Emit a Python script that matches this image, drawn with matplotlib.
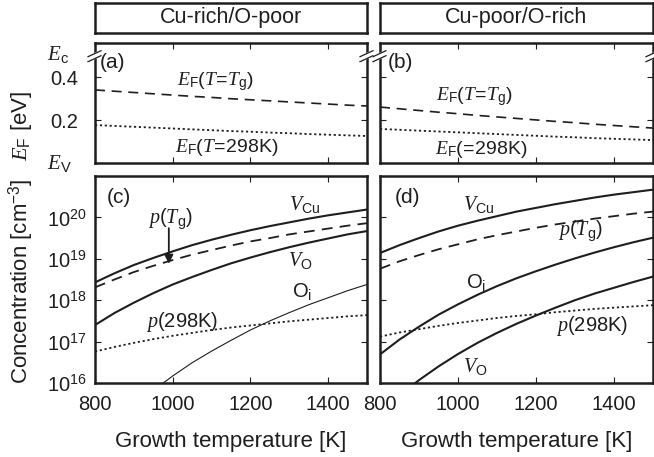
import matplotlib
matplotlib.use("Agg")
import matplotlib.pyplot as plt
import numpy as np

plt.rcParams['font.family'] = ['Liberation Sans', 'DejaVu Sans']
plt.rcParams['mathtext.fontset'] = 'custom'
plt.rcParams['mathtext.rm'] = 'Liberation Sans'
plt.rcParams['mathtext.sf'] = 'Liberation Sans'
plt.rcParams['mathtext.it'] = 'Liberation Serif:italic'

INK = '#1e1e1e'

# growth temperature [K]
temps = [800, 850, 900, 950, 1000, 1050, 1100, 1150, 1200, 1250, 1300, 1350, 1400, 1450, 1500]

# Fermi level above E_V [eV]
ef_tg_rich = [0.341, 0.335, 0.329, 0.323, 0.317, 0.311, 0.306, 0.300, 0.295, 0.290, 0.285, 0.280, 0.275, 0.270, 0.266]
ef_rt_rich = [0.177, 0.173, 0.169, 0.165, 0.161, 0.157, 0.153, 0.149, 0.146, 0.142, 0.139, 0.135, 0.132, 0.129, 0.126]
ef_tg_poor = [0.261, 0.253, 0.245, 0.237, 0.230, 0.222, 0.215, 0.208, 0.201, 0.194, 0.188, 0.181, 0.175, 0.169, 0.163]
ef_rt_poor = [0.159, 0.155, 0.151, 0.147, 0.143, 0.139, 0.135, 0.131, 0.127, 0.123, 0.120, 0.116, 0.113, 0.110, 0.107]

# log10 concentration [cm^-3], Cu-rich/O-poor
vcu_rich = [18.43, 18.65, 18.85, 19.02, 19.18, 19.33, 19.46, 19.58, 19.69, 19.79, 19.88, 19.97, 20.05, 20.12, 20.19]
ptg_rich = [18.31, 18.50, 18.68, 18.83, 18.97, 19.10, 19.21, 19.32, 19.42, 19.50, 19.59, 19.66, 19.73, 19.80, 19.86]
vo_rich = [17.40, 17.69, 17.94, 18.17, 18.38, 18.56, 18.73, 18.89, 19.03, 19.16, 19.28, 19.39, 19.49, 19.59, 19.67]
oi_rich = [14.51, 15.00, 15.43, 15.82, 16.17, 16.49, 16.77, 17.03, 17.28, 17.50, 17.70, 17.89, 18.06, 18.23, 18.38]
prt_rich = [16.76, 16.87, 16.97, 17.06, 17.14, 17.21, 17.28, 17.34, 17.39, 17.44, 17.49, 17.53, 17.57, 17.61, 17.64]

# log10 concentration [cm^-3], Cu-poor/O-rich
vcu_poor = [19.14, 19.33, 19.50, 19.66, 19.80, 19.92, 20.03, 20.14, 20.23, 20.32, 20.40, 20.48, 20.55, 20.61, 20.67]
ptg_poor = [18.76, 18.94, 19.09, 19.23, 19.35, 19.47, 19.57, 19.66, 19.75, 19.83, 19.90, 19.97, 20.03, 20.09, 20.14]
oi_poor = [16.69, 17.05, 17.36, 17.65, 17.90, 18.13, 18.34, 18.53, 18.70, 18.86, 19.01, 19.15, 19.28, 19.40, 19.51]
vo_poor = [15.29, 15.70, 16.07, 16.40, 16.70, 16.97, 17.21, 17.43, 17.63, 17.82, 18.00, 18.16, 18.30, 18.44, 18.57]
prt_poor = [17.12, 17.22, 17.30, 17.38, 17.45, 17.51, 17.57, 17.62, 17.66, 17.71, 17.75, 17.79, 17.82, 17.85, 17.88]

W, H = 654, 457
fig = plt.figure(figsize=(W / 100, H / 100), dpi=100)


def box(x0, y0, x1, y1):
    return [x0 / W, 1 - y1 / H, (x1 - x0) / W, (y1 - y0) / H]


def frame(ax):
    for s in ax.spines.values():
        s.set_linewidth(1.8)
        s.set_color(INK)


def break_marks(ax, yc):
    # small "//" marks across both spines of the energy panels
    bb = ax.get_position()
    dx = 1 / (bb.width * W)
    dy = 1 / (bb.height * H)
    for x0 in (0, 1):
        gap = plt.Polygon([(x0 - 7 * dx, yc - 5.5 * dy), (x0 + 6 * dx, yc + 0.5 * dy),
                           (x0 + 6 * dx, yc + 5.5 * dy), (x0 - 7 * dx, yc - 0.5 * dy)],
                          closed=True, transform=ax.transAxes, clip_on=False,
                          color='white', zorder=5)
        ax.add_patch(gap)
        for off in (-2.5, 2.5):
            ax.plot([x0 - 7 * dx, x0 + 6 * dx],
                    [yc + (off - 3) * dy, yc + (off + 3) * dy],
                    transform=ax.transAxes, clip_on=False, color=INK, lw=0.9, zorder=6)


def lbl(ax, x, logy, s):
    ax.text(x, 10 ** logy, s, ha='center', va='center', fontsize=14.5, color=INK)


cols = [(95, 367), (380, 653)]
titles = ['Cu-rich/O-poor', 'Cu-poor/O-rich']
ef_sets = [(ef_tg_rich, ef_rt_rich), (ef_tg_poor, ef_rt_poor)]
letters_top = ['(a)', '(b)']
letters_bot = ['(c)', '(d)']

for i, (x0, x1) in enumerate(cols):
    # title box
    tb = fig.add_axes(box(x0, 3, x1, 33))
    tb.set_xticks([])
    tb.set_yticks([])
    frame(tb)
    tb.text(0.5, 0.5, titles[i], ha='center', va='center', fontsize=15.5,
            color=INK, transform=tb.transAxes)

    # Fermi level panel
    ax = fig.add_axes(box(x0, 43, x1, 163))
    frame(ax)
    tg, rt = ef_sets[i]
    ax.plot(temps, tg, color=INK, lw=1.2, ls=(0, (6, 4)))
    ax.plot(temps, rt, color=INK, lw=1.3, ls=(0, (1.2, 1.5)))
    ax.set_xlim(800, 1500)
    ax.set_ylim(0, 0.56)
    ax.set_xticks([800, 1000, 1200, 1400])
    ax.set_yticks([0.2, 0.4])
    ax.tick_params(direction='in', top=True, right=True, length=4, width=0.8,
                   color=INK, labelbottom=False)
    if i == 0:
        ax.set_yticklabels(['0.2', '0.4'], fontsize=14.5, color=INK)
        ax.tick_params(axis='y', pad=12)
        ax.text(-0.176, 0.905, r'$E_\mathsf{c}$', transform=ax.transAxes,
                ha='left', va='center', fontsize=15, color=INK)
        ax.text(-0.176, 0.0, r'$E_\mathsf{V}$', transform=ax.transAxes,
                ha='left', va='center', fontsize=15, color=INK)
    else:
        ax.set_yticklabels([])
    ax.text(0.018 if i == 0 else 0.03, 0.84, letters_top[i], transform=ax.transAxes,
            ha='left', va='center', fontsize=15, color=INK)
    break_marks(ax, 0.89)

    if i == 0:
        ax.text(1109, 0.378, r'$E_\mathrm{F}(T\!=\!T_\mathrm{g})$', ha='center',
                va='center', fontsize=14, color=INK)
        ax.text(1140, 0.070, r'$E_\mathrm{F}(T\!=\!\mathrm{298K})$', ha='center',
                va='center', fontsize=14, color=INK)
    else:
        ax.text(1041, 0.308, r'$E_\mathrm{F}(T\!=\!T_\mathrm{g})$', ha='center',
                va='center', fontsize=14, color=INK)
        ax.text(1059, 0.061, r'$E_\mathrm{F}(\!=\!\mathrm{298K})$', ha='center',
                va='center', fontsize=14, color=INK)

    # concentration panel
    bx = fig.add_axes(box(x0, 176, x1, 383))
    frame(bx)
    bx.set_yscale('log')
    if i == 0:
        bx.plot(temps, 10 ** np.array(vcu_rich), color=INK, lw=1.5)
        bx.plot(temps, 10 ** np.array(ptg_rich), color=INK, lw=1.3, ls=(0, (6, 4)))
        bx.plot(temps, 10 ** np.array(vo_rich), color=INK, lw=1.5)
        bx.plot(temps, 10 ** np.array(oi_rich), color=INK, lw=0.8)
        bx.plot(temps, 10 ** np.array(prt_rich), color=INK, lw=1.3, ls=(0, (1.2, 1.5)))
        lbl(bx, 1340, 20.30, r'$V_\mathrm{Cu}$')
        lbl(bx, 1328, 18.97, r'$V_\mathrm{O}$')
        lbl(bx, 1333, 18.22, r'$\mathrm{O}_\mathrm{i}$')
        lbl(bx, 1024, 17.47, r'$p(\mathrm{298K})$')
        lbl(bx, 993, 19.96, r'$p(T_\mathrm{g})$')
        bx.annotate('', xy=(990, 10 ** 18.88), xytext=(990, 10 ** 19.74),
                    arrowprops=dict(arrowstyle='-|>', color=INK, lw=1.3,
                                    mutation_scale=13, shrinkA=0, shrinkB=0))
    else:
        bx.plot(temps, 10 ** np.array(vcu_poor), color=INK, lw=1.5)
        bx.plot(temps, 10 ** np.array(ptg_poor), color=INK, lw=1.3, ls=(0, (6, 4)))
        bx.plot(temps, 10 ** np.array(oi_poor), color=INK, lw=1.5)
        bx.plot(temps, 10 ** np.array(vo_poor), color=INK, lw=1.5)
        bx.plot(temps, 10 ** np.array(prt_poor), color=INK, lw=1.3, ls=(0, (1.2, 1.5)))
        lbl(bx, 1054, 20.30, r'$V_\mathrm{Cu}$')
        lbl(bx, 1313, 19.65, r'$p(T_\mathrm{g})$')
        lbl(bx, 1046, 18.42, r'$\mathrm{O}_\mathrm{i}$')
        lbl(bx, 1344, 17.38, r'$p(\mathrm{298K})$')
        lbl(bx, 1044, 16.41, r'$V_\mathrm{O}$')
    bx.set_xlim(800, 1500)
    bx.set_ylim(1e16, 1e21)
    bx.set_xticks([800, 1000, 1200, 1400])
    bx.set_xticklabels(['800', '1000', '1200', '1400'], fontsize=14.5, color=INK)
    bx.set_yticks([1e16, 1e17, 1e18, 1e19, 1e20])
    bx.yaxis.set_minor_locator(matplotlib.ticker.NullLocator())
    bx.tick_params(direction='in', top=True, right=True, length=4, width=0.8,
                   color=INK)
    bx.tick_params(axis='x', pad=9)
    if i == 0:
        bx.tick_params(axis='y', labelsize=14.5, labelcolor=INK, pad=6)
    else:
        bx.tick_params(axis='y', labelleft=False)
    bx.text(0.044 if i == 0 else 0.055, 0.894, letters_bot[i], transform=bx.transAxes,
            ha='left', va='center', fontsize=15, color=INK)
    bx.set_xlabel('Growth temperature [K]', fontsize=16, color=INK, labelpad=12)

fig.text(21 / W, 1 - 126 / H, r'$E_\mathrm{F}$ [eV]', rotation=90, ha='center',
         va='center', fontsize=16, color=INK)
fig.text(21 / W, 1 - 281 / H, r'Concentration [cm$^{-3}$]', rotation=90,
         ha='center', va='center', fontsize=16, color=INK)

fig.savefig('out.png', dpi=100)
